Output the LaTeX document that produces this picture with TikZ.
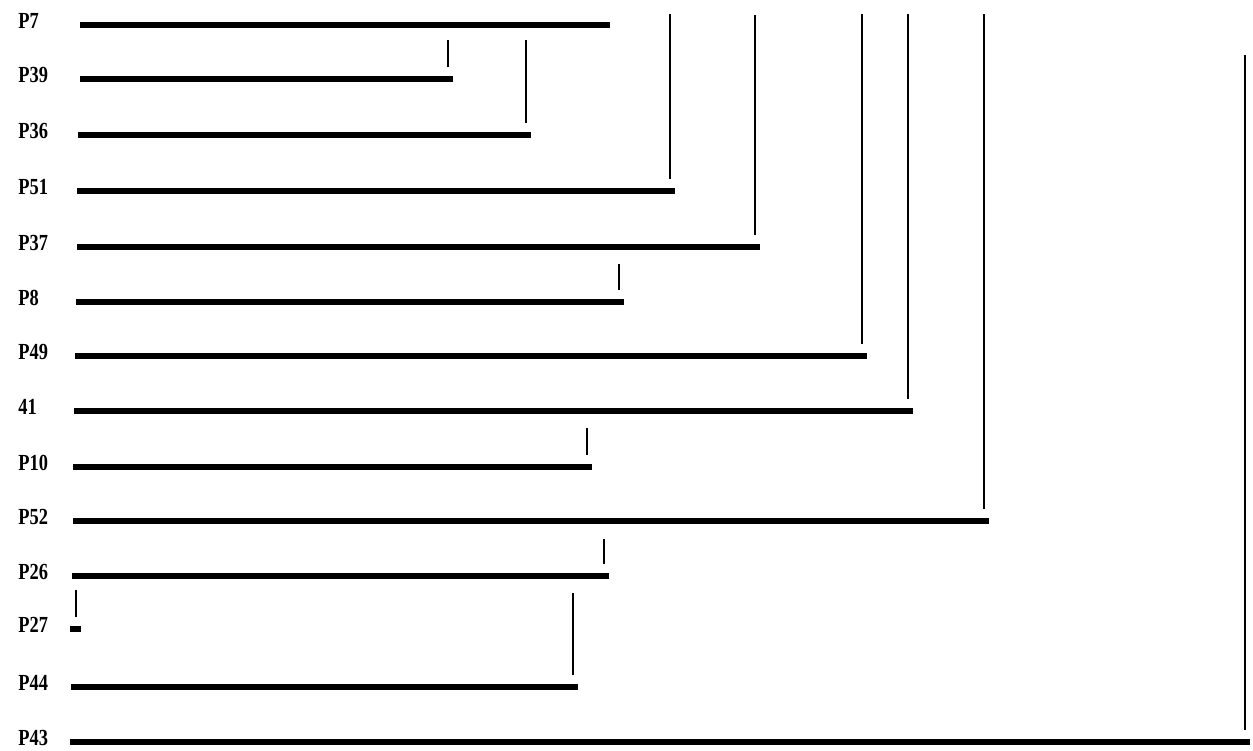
\documentclass[tikz,border=0pt]{standalone}
\usepackage{fontspec}
\setmainfont{Liberation Serif}[FakeStretch=0.8]
\usepackage{tikz}

\begin{document}
\begin{tikzpicture}[
        x=0.5pt, y=-0.5pt,
        every node/.style={font=\bfseries\fontsize{11.5}{13}\selectfont},
        lbl/.style={anchor=west, inner sep=0pt},
        bar/.style={line width=2.8pt},
        link/.style={line width=1.3pt}
    ]
        \useasboundingbox (0,0) rectangle (1253,750);
        % rows: name/label/y/start/end
        \foreach \n/\t/\y/\s/\e in {p7/P7/25/80/610, p39/P39/79/80/453, p36/P36/135/78/531,
                p51/P51/191/77/675, p37/P37/247/77/760, p8/P8/302/76/624, p49/P49/356/75/867,
                n41/41/411/74/913, p10/P10/467/73/592, p52/P52/521/73/989, p26/P26/576/72/609,
                p27/P27/629/70/81, p44/P44/687/71/578, p43/P43/742/70/1250} {
            \node[lbl] (\n) at (18,\y-4) {\t};
            \coordinate (\n s) at (\s,\y);
            \coordinate (\n e) at (\e,\y);
            \draw[bar] (\n s) -- (\n e);
        }
        % upright strokes above the bar ends
        \foreach \n/\h in {p39/27, p36/83, p51/165, p37/220, p8/26, p49/330, n41/385,
                p10/27, p52/495, p26/25, p27/27, p44/82, p43/675}
            \draw[link] (\n e) ++(-5,-12) -- ++(0,-\h);
    \end{tikzpicture}
\end{document}
